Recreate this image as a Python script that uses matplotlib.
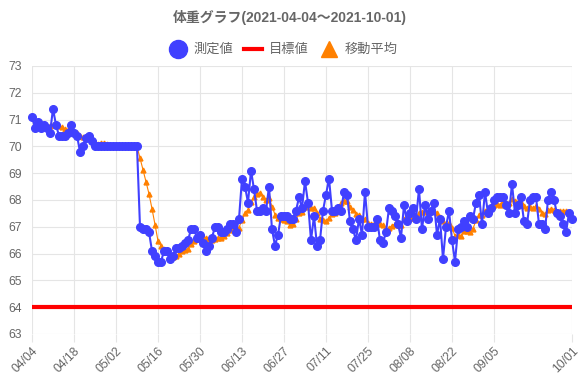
import matplotlib
matplotlib.use('Agg')
import matplotlib.pyplot as plt
from matplotlib.lines import Line2D
import pandas as pd

plt.rcParams['font.family'] = ['Liberation Sans', 'Noto Sans CJK JP', 'DejaVu Sans']

# 測定値 (2021-04-04 から 1日ごと)
start = '2021-04-04'
end = '2021-10-01'
weight = [
    71.1, 70.7, 70.9, 70.7, 70.8, 70.7, 70.5, 71.4, 70.8, 70.4,
    70.4, 70.4, 70.5, 70.8, 70.5, 70.4, 69.8, 70.0, 70.3, 70.4,
    70.2, 70.0, 70.0, 70.0, 70.0, 70.0, 70.0, 70.0, 70.0, 70.0,
    70.0, 70.0, 70.0, 70.0, 70.0, 70.0, 67.0, 66.9, 66.9, 66.8,
    66.1, 65.9, 65.7, 65.7, 66.1, 66.1, 65.8, 65.9, 66.2, 66.2,
    66.3, 66.4, 66.5, 66.9, 66.9, 66.6, 66.7, 66.4, 66.1, 66.3,
    66.6, 67.0, 67.0, 66.8, 66.8, 66.9, 67.1, 67.1, 66.8, 67.3,
    68.8, 68.5, 67.9, 69.1, 68.4, 67.6, 67.6, 67.7, 67.6, 68.5,
    66.9, 66.3, 66.7, 67.4, 67.4, 67.4, 67.3, 67.3, 67.6, 68.1,
    67.7, 68.7, 67.9, 66.5, 67.4, 66.3, 66.5, 67.6, 68.2, 68.8,
    67.6, 67.6, 67.7, 67.6, 68.3, 68.2, 67.2, 66.9, 66.5, 67.3,
    66.7, 68.3, 67.0, 67.0, 67.0, 67.3, 66.5, 66.4, 66.8, 67.7,
    67.6, 67.4, 67.1, 66.6, 67.8, 67.2, 67.5, 67.7, 67.3, 68.4,
    66.9, 67.8, 67.3, 67.6, 67.9, 66.7, 67.3, 65.8, 67.0, 67.6,
    66.5, 65.7, 66.9, 67.0, 67.2, 67.0, 67.4, 67.3, 67.9, 68.2,
    67.1, 68.3, 67.5, 67.7, 68.0, 68.1, 68.1, 68.1, 67.8, 67.5,
    68.6, 67.5, 67.8, 68.1, 67.2, 67.1, 68.0, 68.1, 68.1, 67.1,
    67.1, 66.9, 68.0, 68.3, 68.0, 67.5, 67.4, 67.1, 66.8, 67.5,
    67.3,
]
target = 64.0
window = 7
tick_dates = ['2021-04-04', '2021-04-18', '2021-05-02', '2021-05-16', '2021-05-30',
              '2021-06-13', '2021-06-27', '2021-07-11', '2021-07-25', '2021-08-08',
              '2021-08-22', '2021-09-05', '2021-10-01']

dates = pd.date_range(start, end)
moving = pd.Series(weight).rolling(window).mean()

gray = '#666666'
grid_c = '#e5e5e5'
blue = '#4040ff'
orange = '#ff8000'
red = '#ff0000'

fig = plt.figure(figsize=(5.8, 3.9), dpi=100)
ax = fig.add_axes([32 / 580, 1 - 334 / 390, 540 / 580, 268 / 390])

ax.plot(dates, [target] * len(dates), color=red, lw=3, zorder=2,
        solid_capstyle='butt')
ax.plot(dates, moving, color=orange, lw=0.8, marker='^', ms=3.5, zorder=3, clip_on=False)
ax.plot(dates, weight, color=blue, lw=1.5, marker='o', ms=5.5, zorder=4, clip_on=False)

ax.set_xlim(pd.Timestamp(start), pd.Timestamp(end))
ax.set_ylim(63, 73)
ax.set_yticks(range(63, 74))
ticks = pd.to_datetime(tick_dates)
ax.set_xticks(ticks)
ax.set_xticklabels([t.strftime('%m/%d') for t in ticks], rotation=45, ha='right',
                   rotation_mode='anchor')

ax.grid(True, color=grid_c, lw=0.8)
ax.set_axisbelow(True)
for s in ax.spines.values():
    s.set_visible(False)
ax.tick_params(axis='y', length=0, pad=7, labelsize=8.8, labelcolor=gray)
ax.tick_params(axis='x', length=6, width=0.8, color=grid_c, pad=2,
               labelsize=8.8, labelcolor=gray)

fig.text(0.5, 1 - 17 / 390, '体重グラフ(2021-04-04～2021-10-01)', ha='center', va='center',
         fontsize=10, fontweight='bold', color=gray)

handles = [
    Line2D([], [], color=blue, marker='o', ls='none', ms=13),
    Line2D([], [], color=red, lw=3),
    Line2D([], [], color=orange, marker='^', ls='none', ms=11),
]
fig.legend(handles, ['測定値', '目標値', '移動平均'], loc='center',
           bbox_to_anchor=(283 / 580, 1 - 50 / 390), ncol=3, frameon=False,
           fontsize=9.5, labelcolor=gray, handlelength=1.4, handletextpad=0.5,
           columnspacing=0.8, numpoints=1)

fig.savefig('out.png', dpi=100)
